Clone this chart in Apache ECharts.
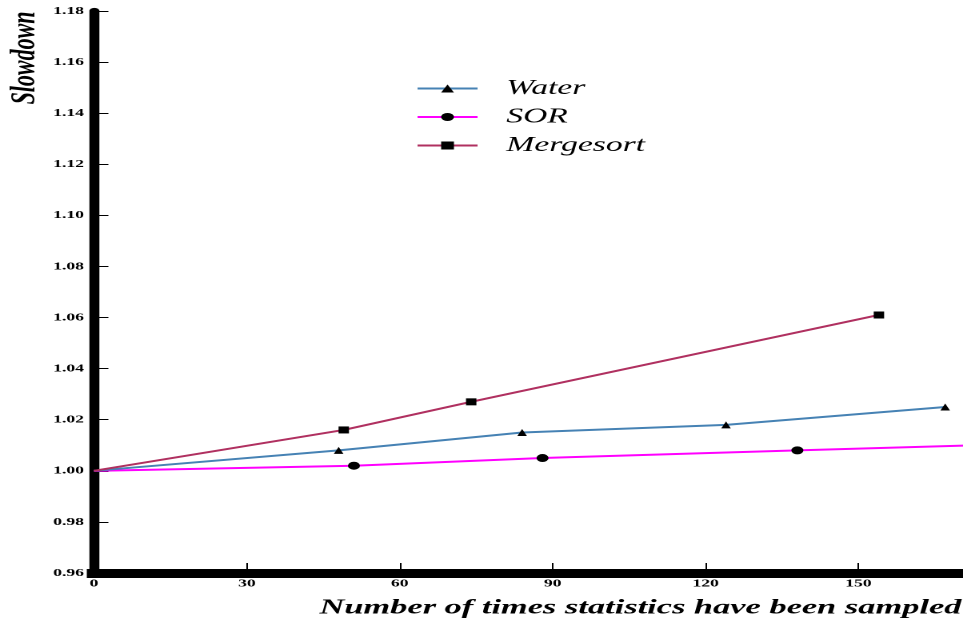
<!DOCTYPE html>
<html><head><meta charset="utf-8">
<script src="https://cdn.jsdelivr.net/npm/echarts@6/dist/echarts.min.js"></script>
<style>
html,body{margin:0;padding:0;background:#fff;overflow:hidden}
#wrap{position:absolute;left:0;top:0;width:963px;height:621px;overflow:hidden;background:#fff}
#chart{position:absolute;left:0;top:0;width:602px;height:621px;transform:scaleX(1.59967);transform-origin:0 0}
</style></head>
<body><div id="wrap"><div id="chart"></div></div>
<script>
// ---- data ----
const seriesNames = ['Water', 'SOR', 'Mergesort'];
const waterX = [0, 48, 84, 124, 167];
const waterY = [1.000, 1.008, 1.015, 1.018, 1.025];
const sorX = [0, 51, 88, 138, 176];
const sorY = [1.000, 1.002, 1.005, 1.008, 1.0102];
const mergeX = [0, 49, 74, 154];
const mergeY = [1.000, 1.016, 1.027, 1.061];
const xTickLabels = ['0', '30', '60', '90', '120', '150'];
const yTickLabels = ['0.96','0.98','1.00','1.02','1.04','1.06','1.08','1.10','1.12','1.14','1.16','1.18'];
const xTitle = 'Number of times statistics have been sampled';
const yTitle = 'Slowdown';

const FONT = '"Liberation Serif", "Times New Roman", serif';

function pts(xs, ys) {
  return xs.map((x, i) => i === 0 ? { value: [x, ys[i]], symbol: 'none' } : { value: [x, ys[i]] });
}

const chart = echarts.init(document.getElementById('chart'), null, { renderer: 'canvas', devicePixelRatio: 2 });
chart.setOption({
  backgroundColor: '#fff',
  animation: false,
  grid: { left: 58.76, right: 0, top: 11, bottom: 48, outerBoundsMode: 'none', containLabel: false },
  legend: {
    orient: 'vertical', left: 255, top: 73,
    itemWidth: 37.5, itemHeight: 10, itemGap: 7.5,
    selectedMode: false,
    data: seriesNames,
    textStyle: { fontFamily: FONT, fontStyle: 'italic', fontSize: 21, lineHeight: 21, color: '#000', padding: [0, 0, 0, 13] }
  },
  xAxis: {
    type: 'value', min: 0, max: 170.5, interval: 30,
    axisLine: { lineStyle: { color: '#000', width: 9, cap: 'square' } },
    axisTick: { inside: true, length: 10, lineStyle: { color: '#000', width: 1 } },
    axisLabel: {
      margin: 5, color: '#000', fontFamily: FONT, fontWeight: 'bold', fontSize: 11,
      showMaxLabel: false,
      formatter: v => { const i = xTickLabels.indexOf(String(Math.round(v))); return i >= 0 ? xTickLabels[i] : ''; }
    },
    splitLine: { show: false },
    name: xTitle, nameLocation: 'end', nameGap: -1, nameMoveOverlap: false,
    nameTextStyle: { fontFamily: FONT, fontWeight: 'bold', fontStyle: 'italic', fontSize: 21.5, lineHeight: 21.5, color: '#000',
      align: 'right', verticalAlign: 'top', padding: [24, 0, 0, 0] }
  },
  yAxis: {
    type: 'value', min: 0.96, max: 1.18, interval: 0.02,
    axisLine: { lineStyle: { color: '#000', width: 6.25 } },
    axisTick: { inside: true, length: 9, lineStyle: { color: '#000', width: 1 } },
    axisLabel: {
      margin: 6.25, color: '#000', fontFamily: FONT, fontWeight: 'bold', fontSize: 11, padding: [6, 0, 0, 0],
      formatter: v => yTickLabels[Math.round((v - 0.96) / 0.02)] || ''
    },
    splitLine: { show: false },
    name: yTitle, nameLocation: 'end', nameGap: -0.5, nameRotate: 90, nameMoveOverlap: false,
    nameTextStyle: { fontFamily: FONT, fontWeight: 'bold', fontStyle: 'italic', fontSize: 22, lineHeight: 22, color: '#000',
      align: 'right', verticalAlign: 'bottom', padding: [0, 0, 32, 0] }
  },
  series: [
    { name: seriesNames[0], type: 'line', data: pts(waterX, waterY), symbol: 'triangle', symbolSize: [6, 7],
      itemStyle: { color: '#000' }, lineStyle: { color: '#4682B4', width: 2 }, z: 3 },
    { name: seriesNames[1], type: 'line', data: pts(sorX, sorY), symbol: 'circle', symbolSize: [7.5, 8],
      itemStyle: { color: '#000' }, lineStyle: { color: '#FF00FF', width: 2 }, z: 2 },
    { name: seriesNames[2], type: 'line', data: pts(mergeX, mergeY), symbol: 'rect', symbolSize: [6.5, 7],
      itemStyle: { color: '#000' }, lineStyle: { color: '#B03060', width: 2 }, z: 4 }
  ]
});
</script>
</body></html>
